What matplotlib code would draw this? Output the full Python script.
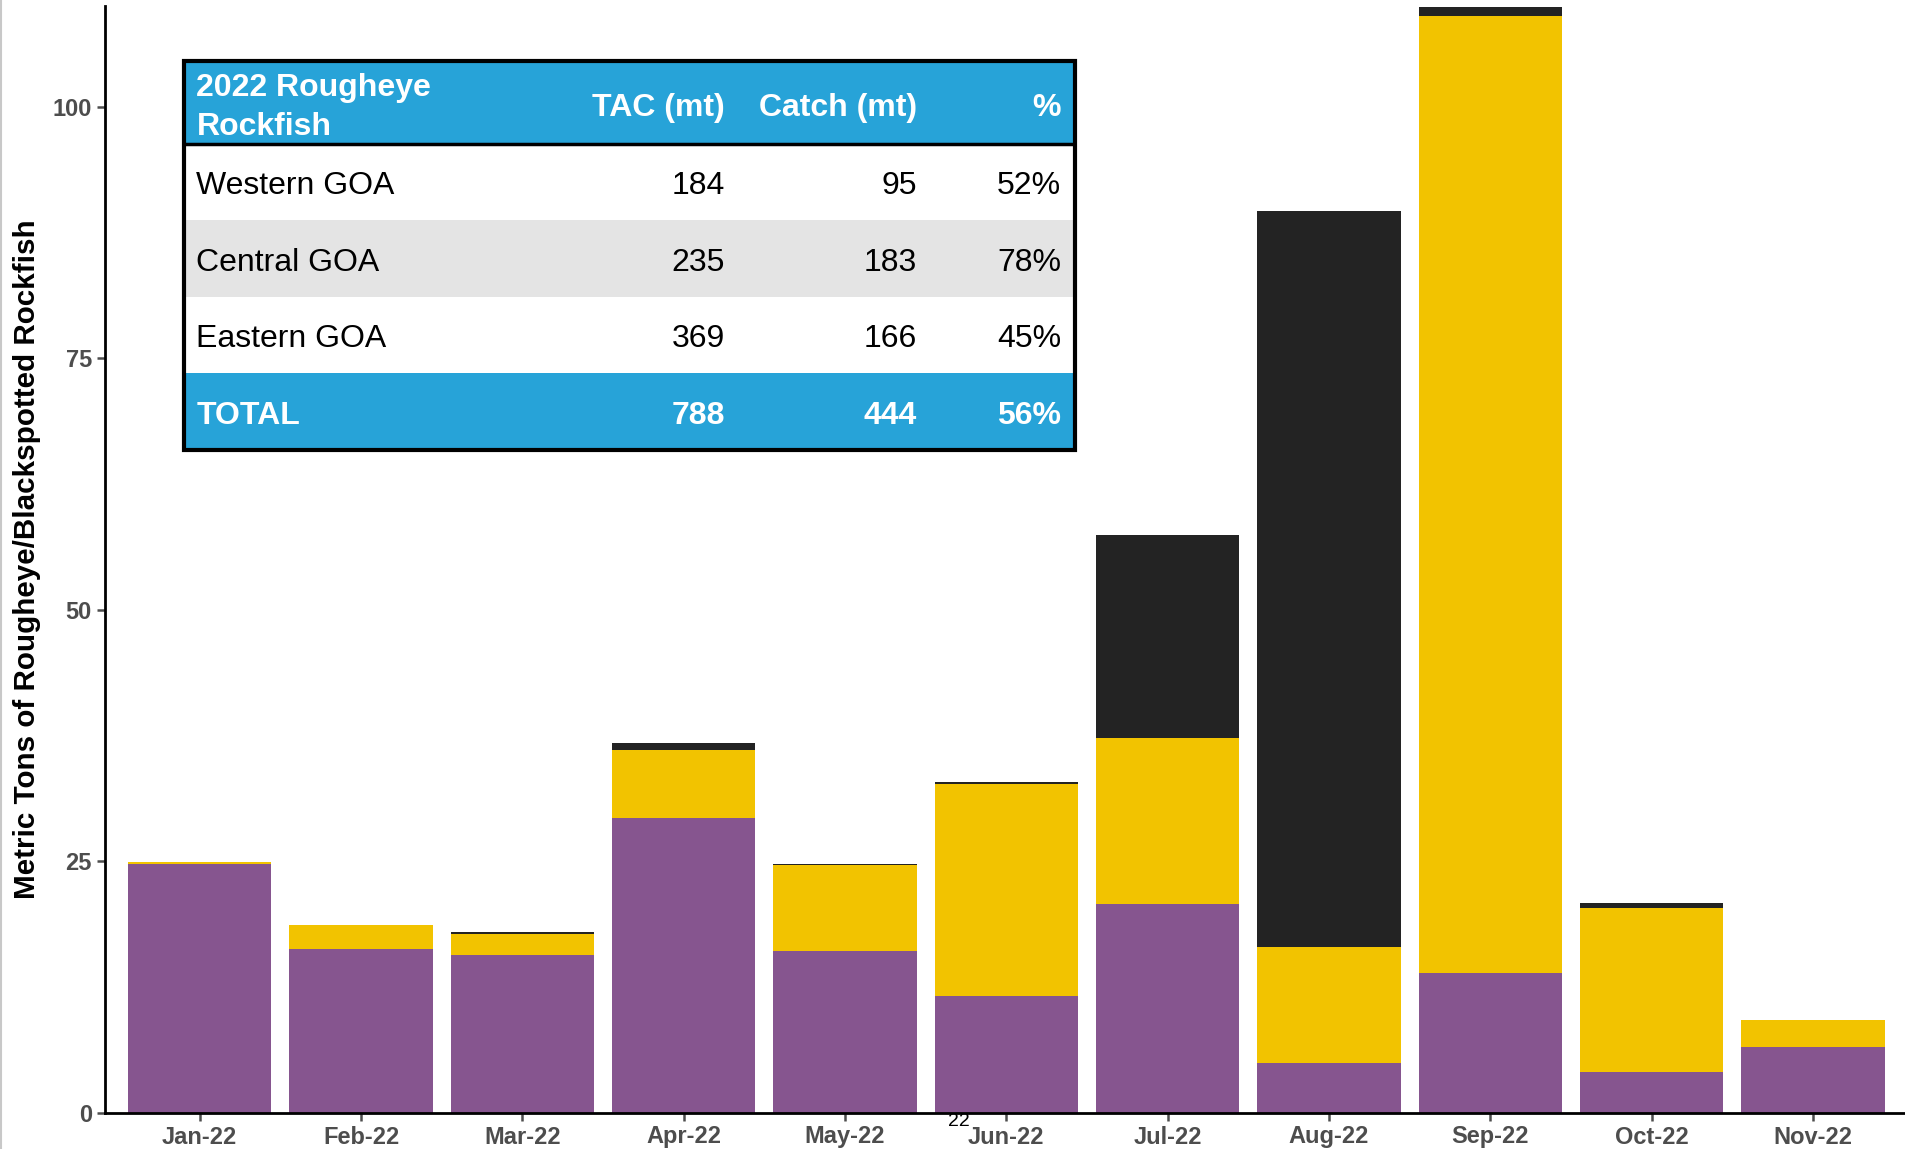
import matplotlib.pyplot as plt
from matplotlib.patches import Rectangle
import numpy as np

plt.rcParams['font.family'] = ['Liberation Sans', 'DejaVu Sans']

# monthly catch, stacked (metric tons)
MONTHS = ['Jan-22', 'Feb-22', 'Mar-22', 'Apr-22', 'May-22', 'Jun-22',
          'Jul-22', 'Aug-22', 'Sep-22', 'Oct-22', 'Nov-22']
PURPLE_VALS = [24.7, 16.3, 15.7, 29.35, 16.05, 11.6, 20.8, 4.95, 13.9, 4.1, 6.6]
YELLOW_VALS = [0.2, 2.4, 2.05, 6.75, 8.55, 21.1, 16.5, 11.55, 95.1, 16.3, 2.6]
BLACK_VALS = [0.0, 0.0, 0.25, 0.7, 0.15, 0.15, 20.1, 73.1, 0.9, 0.5, 0.0]

# summary table
TABLE_HEADER = ['2022 Rougheye\nRockfish', 'TAC (mt)', 'Catch (mt)', '%']
TABLE_ROWS = [['Western GOA', '184', '95', '52%'],
              ['Central GOA', '235', '183', '78%'],
              ['Eastern GOA', '369', '166', '45%']]
TABLE_TOTAL = ['TOTAL', '788', '444', '56%']

PURPLE = '#86558f'
YELLOW = '#f2c300'
BLACK = '#232323'
BLUE = '#27a3d8'
GRAY_ROW = '#e4e4e4'
TICK_GRAY = '#4d4d4d'

W, H = 1905, 1149
fig = plt.figure(figsize=(W / 100, H / 100), dpi=100)
ax = fig.add_axes([104.5 / W, 1 - 1113 / H, 1 - 104.5 / W, (1113 - 6) / H])

x = np.arange(len(MONTHS))
purple = np.array(PURPLE_VALS)
yellow = np.array(YELLOW_VALS)
black = np.array(BLACK_VALS)
bw = 0.89
ax.bar(x, purple, width=bw, color=PURPLE, edgecolor='none')
ax.bar(x, yellow, width=bw, bottom=purple, color=YELLOW, edgecolor='none')
ax.bar(x, black, width=bw, bottom=purple + yellow, color=BLACK, edgecolor='none')

ax.set_xlim(-0.59, 10.57)
ax.set_ylim(0, 110)
ax.set_yticks([0, 25, 50, 75, 100])
ax.set_xticks(x)
ax.set_xticklabels(MONTHS)
for s in ['top', 'right']:
    ax.spines[s].set_visible(False)
for s in ['left', 'bottom']:
    ax.spines[s].set_linewidth(2.0)
    ax.spines[s].set_color('black')
ax.tick_params(axis='both', length=6, width=1.8, color=TICK_GRAY, labelcolor=TICK_GRAY,
               labelsize=17, pad=3)
for lab in ax.get_xticklabels() + ax.get_yticklabels():
    lab.set_fontweight('bold')
ax.set_ylabel('Metric Tons of Rougheye/Blackspotted Rockfish', fontsize=21.3,
              fontweight='bold')
ax.yaxis.set_label_coords(-0.035, 0.5)

# stray label near Jun-22
fig.text(959 / W, 1 - 1121 / H, '22', fontsize=14, ha='center', va='center')

# table overlay (units: pixels from the table's top-left corner)
TW, TH = 891.5, 388.5
tab = fig.add_axes([183.5 / W, 1 - 449.5 / H, TW / W, TH / H])
tab.set_xlim(0, TW)
tab.set_ylim(TH, 0)
tab.axis('off')
row_edges = [0, 82.5, 159, 235.5, 312, 388.5]
right_cols = [541.5, 733.5, 877.5]
left_col = 13
fills = [BLUE, 'white', GRAY_ROW, 'white', BLUE]
all_rows = [TABLE_HEADER] + TABLE_ROWS + [TABLE_TOTAL]
fs = 23
for i, row in enumerate(all_rows):
    top, bot = row_edges[i], row_edges[i + 1]
    tab.add_patch(Rectangle((0, top), TW, bot - top, facecolor=fills[i], edgecolor='none'))
    bold = i in (0, 4)
    col = 'white' if bold else 'black'
    weight = 'bold' if bold else 'normal'
    base = top + 0.665 * (bot - top)
    lines = row[0].split('\n')
    if len(lines) > 1:
        for k, line in enumerate(lines):
            tab.text(left_col, 35 + 39 * k, line, ha='left', va='baseline', fontsize=fs,
                     fontweight=weight, color=col)
    else:
        tab.text(left_col, base, row[0], ha='left', va='baseline', fontsize=fs,
                 fontweight=weight, color=col)
    for j, val in enumerate(row[1:]):
        tab.text(right_cols[j], base, val, ha='right', va='baseline', fontsize=fs,
                 fontweight=weight, color=col)
tab.plot([0, TW], [row_edges[1], row_edges[1]], color='black', lw=2.5)
tab.add_patch(Rectangle((0, 0), TW, TH, facecolor='none', edgecolor='black', lw=3,
                        clip_on=False))

# thin frame line at the left edge
fig.add_artist(plt.Line2D([1 / W, 1 / W], [0, 1], color='#c8c8c8', lw=1.5))

fig.savefig('out.png', dpi=100)
